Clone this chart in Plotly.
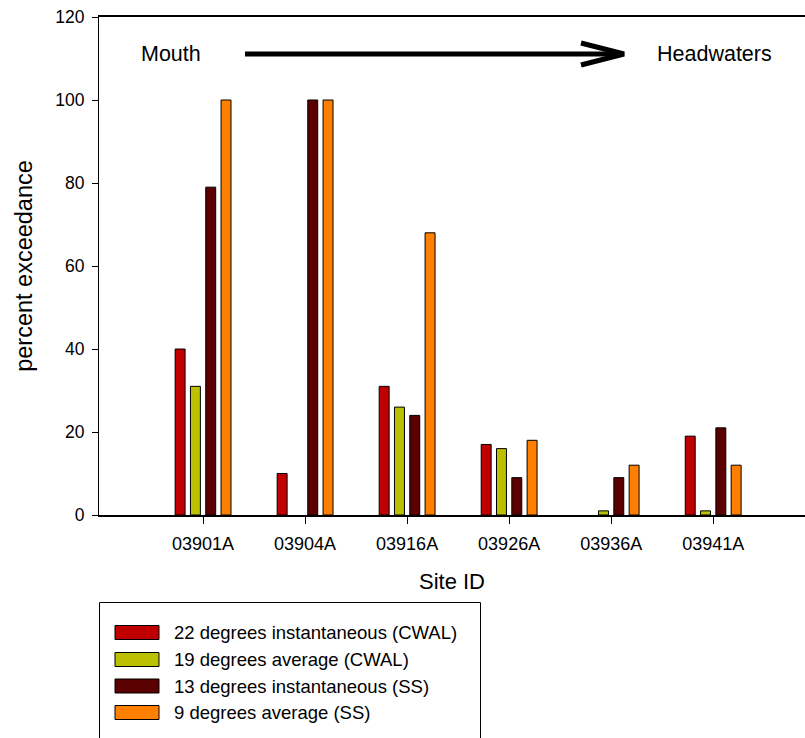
import plotly.graph_objects as go

# Sites ordered from the river mouth upstream to the headwaters
sites = ["03901A", "03904A", "03916A", "03926A", "03936A", "03941A"]

series_names = [
    "22 degrees instantaneous (CWAL)",
    "19 degrees average (CWAL)",
    "13 degrees instantaneous (SS)",
    "9 degrees average (SS)",
]
series_colors = ["#C00000", "#BBC000", "#5A0000", "#FF8000"]

# Percent exceedance per site for each temperature criterion
inst_22_cwal = [40, 10, 31, 17, 0, 19]
avg_19_cwal = [31, 0, 26, 16, 1, 1]
inst_13_ss = [79, 100, 24, 9, 9, 21]
avg_9_ss = [100, 100, 68, 18, 12, 12]

series_values = [inst_22_cwal, avg_19_cwal, inst_13_ss, avg_9_ss]

y_ticks = [0, 20, 40, 60, 80, 100, 120]

W, H = 805, 738
L, R, T, B = 99, 0, 17, 223
PW, PH = W - L - R, H - T - B


def px(x):
    return (x - L) / PW


def py(y):
    return (H - B - y) / PH


FONT = "Liberation Sans, Arial, sans-serif"

fig = go.Figure()
for name, color, vals in zip(series_names, series_colors, series_values):
    # zero-height bars get no outline so nothing is drawn for them
    edge_w = [1 if v > 0 else 0 for v in vals]
    fig.add_trace(go.Bar(
        x=sites, y=vals, name=name,
        marker=dict(color=color, line=dict(color="#000000", width=edge_w)),
        showlegend=False,
    ))

fig.update_layout(
    width=W, height=H,
    margin=dict(l=L, r=R, t=T, b=B, pad=0),
    paper_bgcolor="white", plot_bgcolor="white",
    barmode="group", bargap=0.4, bargroupgap=0.35,
    font=dict(family=FONT, color="black", size=18),
    xaxis=dict(
        type="category", categoryorder="array", categoryarray=sites,
        range=[-1.02, 5.9],
        showline=True, linecolor="black", linewidth=1.5, mirror=True,
        ticks="outside", ticklen=7, tickcolor="black", tickwidth=1,
        tickfont=dict(size=18), ticklabelstandoff=5,
        showgrid=False, zeroline=False,
        title=dict(text="Site ID", font=dict(size=22), standoff=20),
    ),
    yaxis=dict(
        range=[0, 120], tickvals=y_ticks,
        showline=True, linecolor="black", linewidth=1, mirror=False,
        ticks="outside", ticklen=6, tickcolor="black", tickwidth=1,
        tickfont=dict(size=17.5), ticklabelstandoff=4,
        showgrid=False, zeroline=False,
        title=dict(text="percent exceedance", font=dict(size=23.5), standoff=16),
    ),
)

shapes = []
annotations = []

# Flow direction arrow between the mouth and headwaters labels
shapes.append(dict(type="line", xref="paper", yref="paper",
                   x0=px(245), y0=py(54), x1=px(623), y1=py(54),
                   line=dict(color="black", width=5)))
shapes.append(dict(type="path", xref="paper", yref="paper",
                   path=f"M {px(581)},{py(43)} L {px(624)},{py(54)} L {px(581)},{py(65)}",
                   line=dict(color="black", width=5)))
annotations.append(dict(text="Mouth", xref="paper", yref="paper",
                        x=px(171), y=py(54), showarrow=False,
                        xanchor="center", yanchor="middle",
                        font=dict(size=21.5)))
annotations.append(dict(text="Headwaters", xref="paper", yref="paper",
                        x=px(714), y=py(54), showarrow=False,
                        xanchor="center", yanchor="middle",
                        font=dict(size=21.5)))

# Legend box with wide colour swatches
shapes.append(dict(type="rect", xref="paper", yref="paper",
                   x0=px(99.5), y0=py(602.5), x1=px(480.5), y1=py(760),
                   line=dict(color="black", width=1), fillcolor="white",
                   layer="below"))
row_y = [632.5, 659.5, 686, 712.5]
for name, color, yy in zip(series_names, series_colors, row_y):
    shapes.append(dict(type="rect", xref="paper", yref="paper",
                       x0=px(115), y0=py(yy - 7), x1=px(159), y1=py(yy + 7),
                       line=dict(color="black", width=1), fillcolor=color))
    annotations.append(dict(text=name, xref="paper", yref="paper",
                            x=px(172), y=py(yy), showarrow=False,
                            xanchor="left", yanchor="middle",
                            font=dict(size=18.5)))

fig.update_layout(shapes=shapes, annotations=annotations)

fig.write_html("out.html")
